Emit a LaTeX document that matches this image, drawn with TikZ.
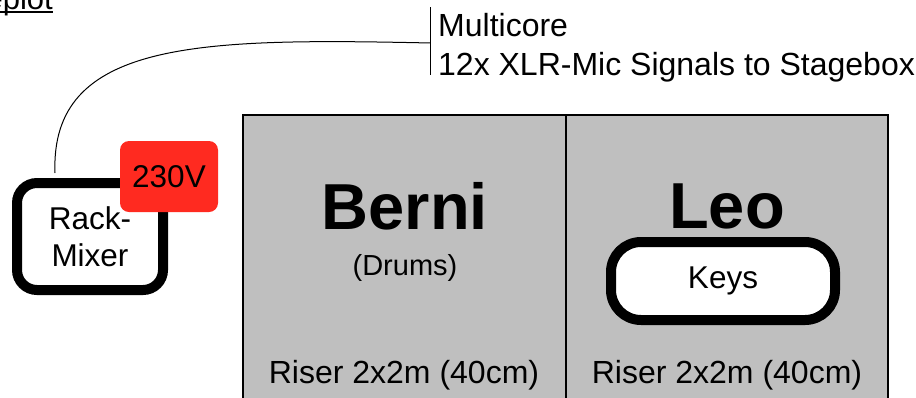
\documentclass[tikz,border=0pt]{standalone}
\usepackage{fontspec}
\setmainfont{Liberation Sans}
\definecolor{risergray}{RGB}{191,191,191}
\definecolor{plugred}{RGB}{255,42,32}
\begin{document}
\begin{tikzpicture}[x=1pt,y=-1pt,
  txt/.style={inner sep=0pt, font=\fontsize{32}{38}\selectfont},
  bigname/.style={inner sep=0pt, font=\bfseries\fontsize{65}{70}\selectfont, anchor=base},
  thickbox/.style={draw=black, line width=10pt, fill=white, rounded corners=#1,
    inner sep=0pt, font=\fontsize{31.5}{37}\selectfont, align=center},
  cell/.style={draw=black, line width=2.4pt, fill=risergray, anchor=north west,
    minimum height=320pt, inner sep=0pt},
  cable/.style={line width=1pt},
  barline/.style={line width=1.5pt}]
\useasboundingbox (0,0) rectangle (916,397);
\clip (0,0) rectangle (916,397);

% title (clipped at top-left)
\node[txt, font=\fontsize{31}{37}\selectfont, anchor=base east] (title) at (53,9) {Stageplot};
\draw[line width=1.4pt] ([yshift=-3pt]title.base west) -- ([yshift=-3pt]title.base east);

% stage risers
\node[cell, minimum width=323pt] (cellL) at (242,114) {};
\node[cell, minimum width=322pt] (cellR) at (565,114) {};

\node[bigname] (berni) at (405,229) {Berni};
\node[txt, font=\fontsize{29}{34}\selectfont, anchor=base] (drums) at (405,275) {(Drums)};
\node[txt, anchor=base] (riserL) at (404,383) {Riser 2x2m (40cm)};

\node[bigname] (leo) at (727,228) {Leo};
\node[thickbox=30pt, minimum width=224pt, minimum height=78pt] (keys) at (723,281) {Keys};
\node[txt, anchor=base] (riserR) at (727,383) {Riser 2x2m (40cm)};

% multicore label
\node[txt, anchor=base west] (mc1) at (438,36) {Multicore};
\node[txt, anchor=base west] (mc2) at (438,75) {12x XLR-Mic Signals to Stagebox};
\coordinate (bartop) at (430.7,7);
\coordinate (barbot) at (430.7,75);
\coordinate (cableend) at (430.7,43);
\draw[barline] (bartop) -- (barbot);

% rack mixer
\node[thickbox=20pt, minimum width=146pt, minimum height=107pt] (rack) at (90,236.5) {Rack-\\Mixer};
\draw[cable] ([xshift=-35pt,yshift=5pt]rack.north) .. controls (50,40) and (200,38) .. (cableend);

% power
\node[fill=plugred, rounded corners=9pt, minimum width=98pt, minimum height=71pt,
  inner sep=0pt, font=\fontsize{31.5}{37}\selectfont] (volt) at (169,176.5) {230V};
\end{tikzpicture}
\end{document}
